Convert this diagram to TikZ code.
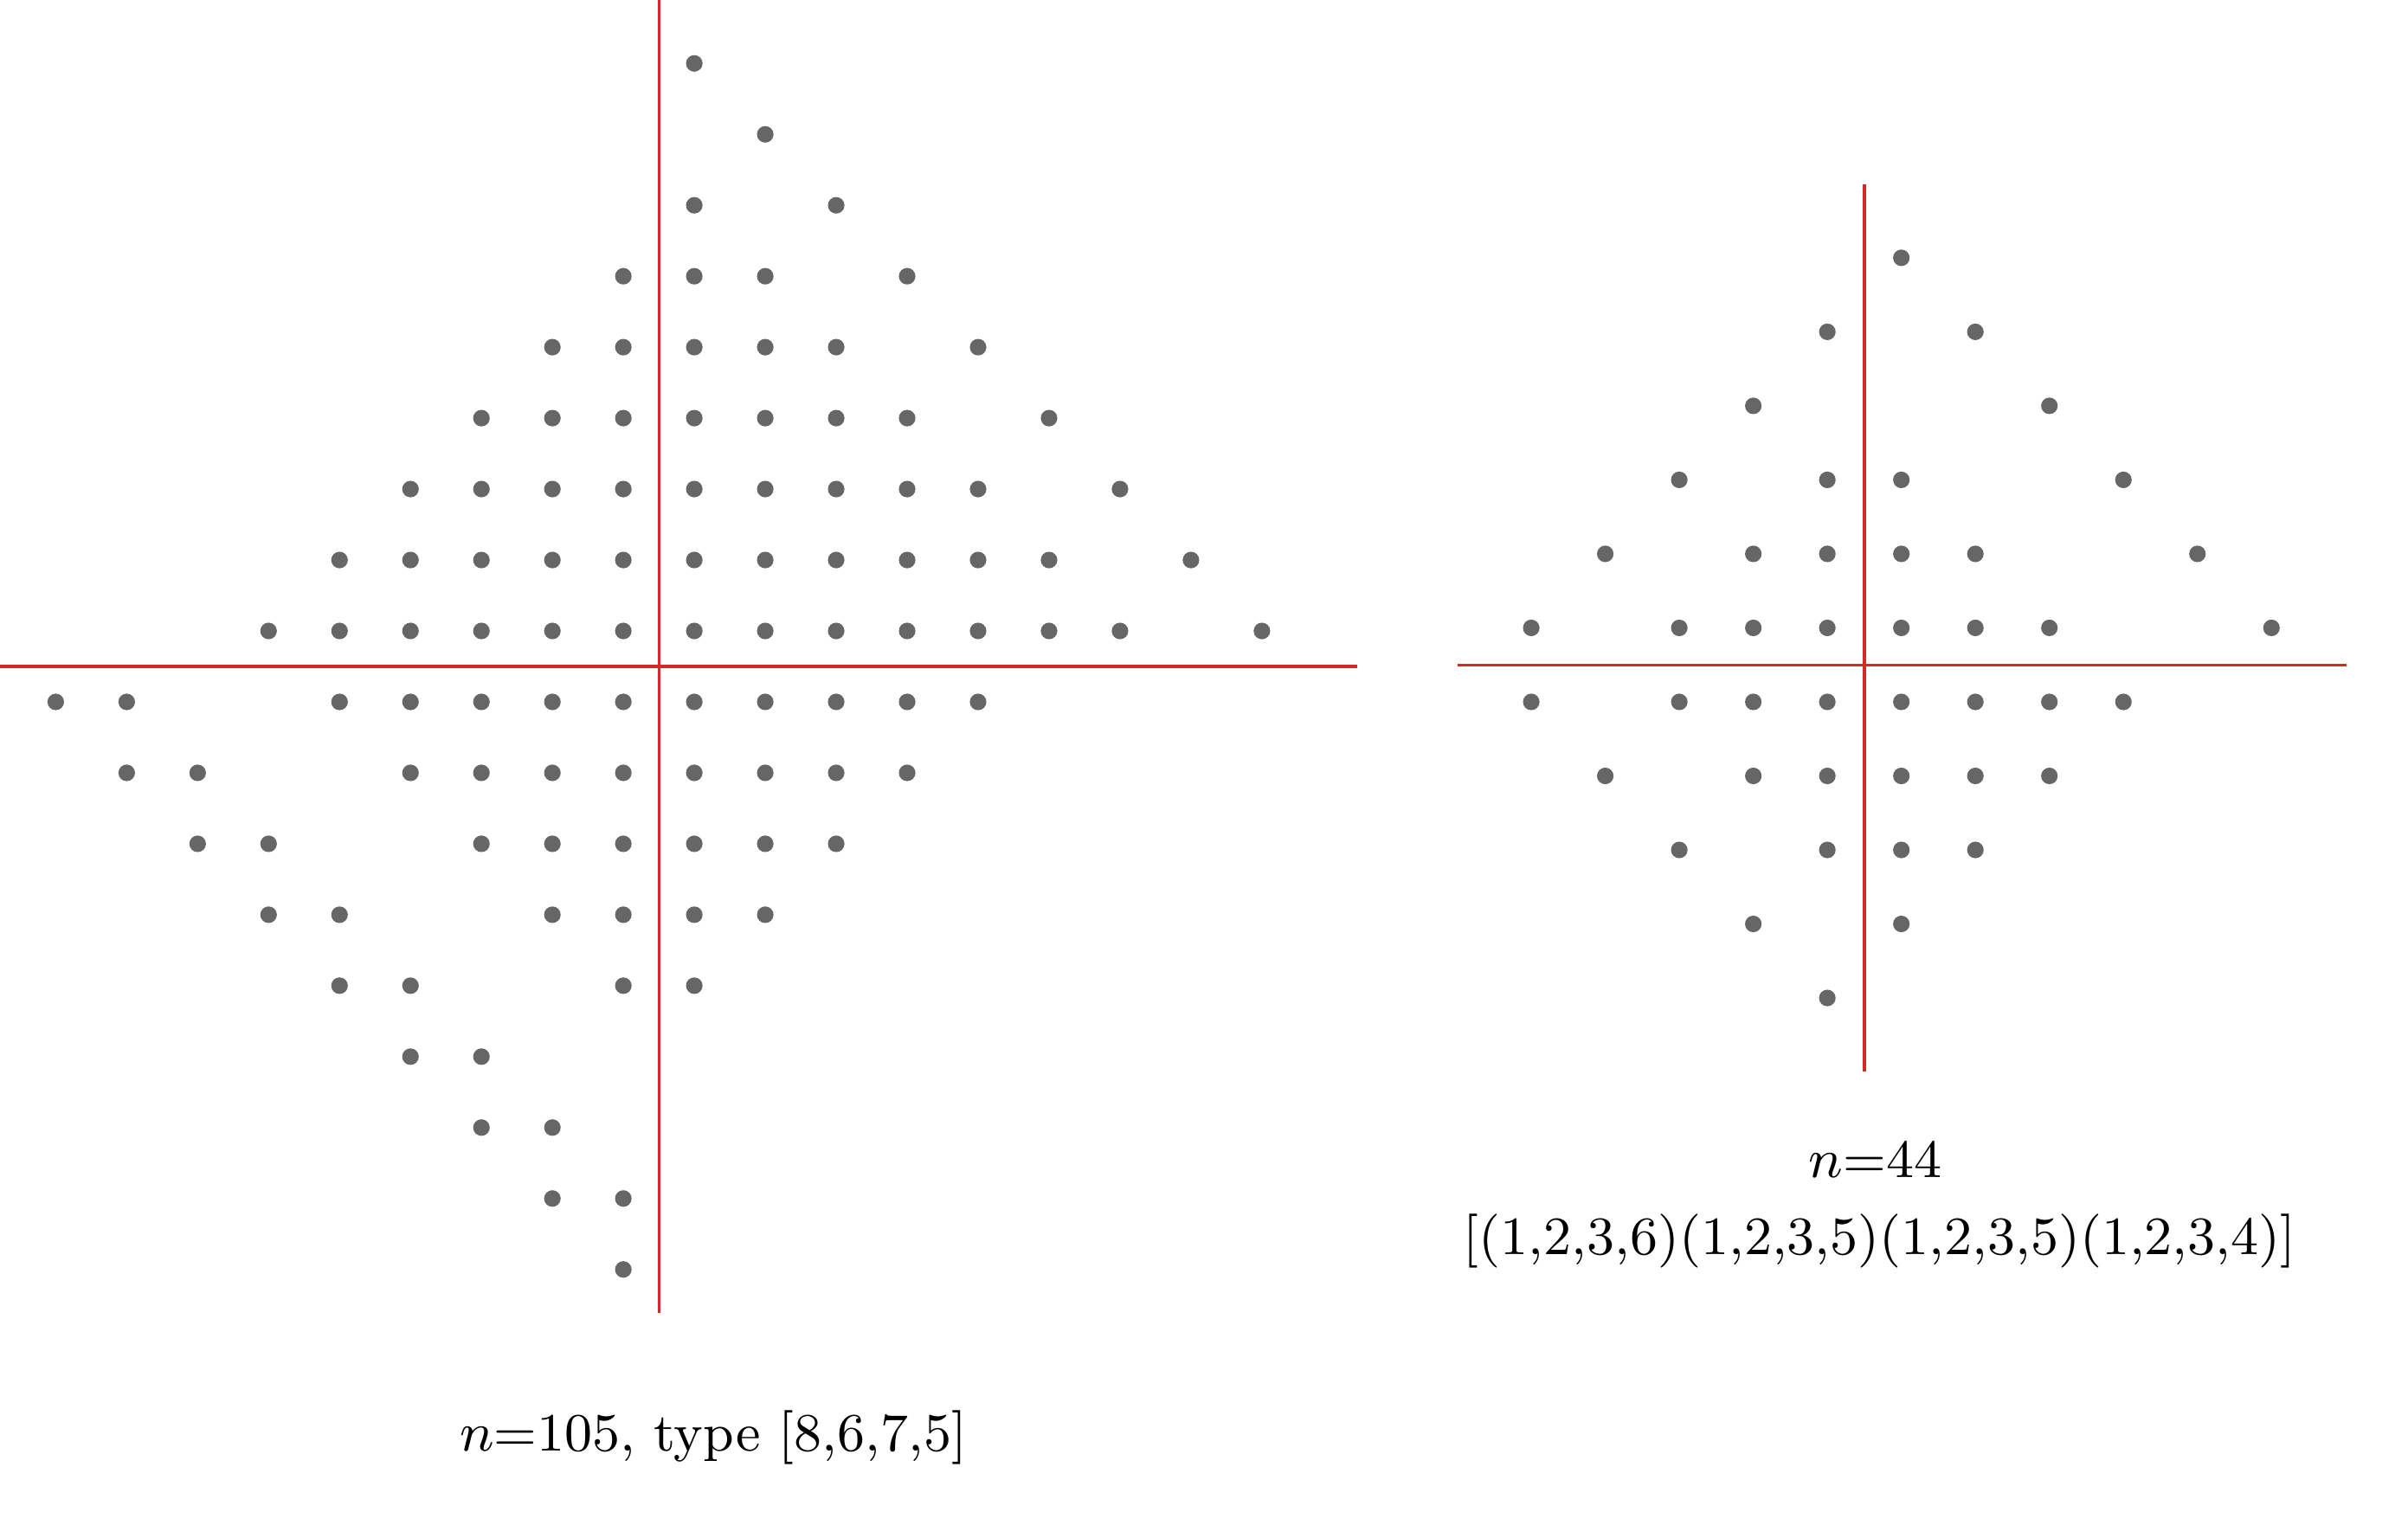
\documentclass[tikz,border=0pt]{standalone}
\begin{document}
\begin{tikzpicture}[x=0.25pt,y=-0.25pt]
\definecolor{axisred}{RGB}{214,40,40}
\definecolor{dotgray}{RGB}{102,102,102}
\tikzset{axis/.style={draw=axisred,line width=0.45pt},
  dot/.style={fill=dotgray},
  lbl/.style={inner sep=0pt,anchor=base,font=\fontsize{8.78}{11}\selectfont}}
\useasboundingbox (0,0) rectangle (1568,993);
% left axes
\draw[axis] (0,434) -- (884,434);
\draw[axis] (429,0) -- (429,855);
% left dots
\foreach \j/\row in {
  9/{1},
  8/{2},
  7/{1,3},
  6/{0,1,2,4},
  5/{-1,0,1,2,3,5},
  4/{-2,-1,0,1,2,3,4,6},
  3/{-3,-2,-1,0,1,2,3,4,5,7},
  2/{-4,-3,-2,-1,0,1,2,3,4,5,6,8},
  1/{-5,-4,-3,-2,-1,0,1,2,3,4,5,6,7,9},
  0/{-8,-7,-4,-3,-2,-1,0,1,2,3,4,5},
  -1/{-7,-6,-3,-2,-1,0,1,2,3,4},
  -2/{-6,-5,-2,-1,0,1,2,3},
  -3/{-5,-4,-1,0,1,2},
  -4/{-4,-3,0,1},
  -5/{-3,-2},
  -6/{-2,-1},
  -7/{-1,0},
  -8/{0}}{
  \foreach \i in \row {
    \fill[dot] ({429+(\i-0.5)*46.2},{434-(\j-0.5)*46.2}) circle[radius=1.35pt];
  }
}
% right axes
\draw[axis] (949,433) -- (1528,433);
\draw[axis] (1214,120) -- (1214,698);
% right dots
\foreach \j/\row in {
  6/{1},
  5/{0,2},
  4/{-1,3},
  3/{-2,0,1,4},
  2/{-3,-1,0,1,2,5},
  1/{-4,-2,-1,0,1,2,3,6},
  0/{-4,-2,-1,0,1,2,3,4},
  -1/{-3,-1,0,1,2,3},
  -2/{-2,0,1,2},
  -3/{-1,1},
  -4/{0}}{
  \foreach \i in \row {
    \fill[dot] ({1214+(\i-0.5)*48.2},{433-(\j-0.5)*48.2}) circle[radius=1.35pt];
  }
}
% labels
\node[lbl] (leftlabel) at (464.5,945) {$n$=105, type [8,6,7,5]};
\node[lbl] (rightn) at (1221,767) {$n$=44};
\node[lbl] (righttype) at (1224,817) {[(1,2,3,6)(1,2,3,5)(1,2,3,5)(1,2,3,4)]};
\end{tikzpicture}
\end{document}
